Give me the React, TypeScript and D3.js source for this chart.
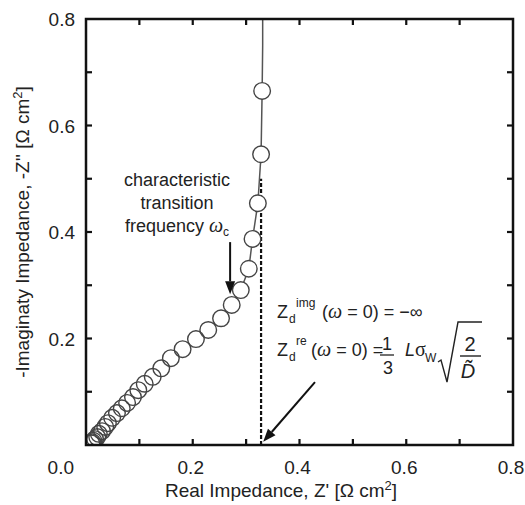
import React from "react";
import * as d3 from "d3";

// Impedance data: Z' (real) and -Z'' (imaginary), Ω cm²
const realZ = [0.010, 0.012, 0.014, 0.017, 0.021, 0.024, 0.030, 0.036, 0.041, 0.049, 0.058, 0.067, 0.077, 0.088, 0.098, 0.110, 0.125, 0.141, 0.159, 0.181, 0.206, 0.229, 0.253, 0.273, 0.290, 0.305, 0.312, 0.322, 0.328, 0.330];
const imagZ = [0.003, 0.005, 0.008, 0.011, 0.015, 0.021, 0.026, 0.034, 0.041, 0.051, 0.060, 0.069, 0.079, 0.090, 0.103, 0.115, 0.128, 0.144, 0.163, 0.180, 0.199, 0.216, 0.238, 0.263, 0.291, 0.331, 0.387, 0.454, 0.546, 0.665];
// continuation of the fitted line beyond the last point
const lineTailReal = [0.331, 0.331];
const lineTailImag = [0.75, 0.85];

const xTicks = [0.2, 0.4, 0.6, 0.8];
const yTicks = [0.2, 0.4, 0.6, 0.8];
const minorTicks = [0.1, 0.2, 0.3, 0.4, 0.5, 0.6, 0.7];

const dcLimitReal = 0.328; // Z_d^re(ω=0)
const dcLineTop = 0.5;

const annoArrow1 = { x1: 0.270, y1: 0.381, x2: 0.270, y2: 0.283 };
const annoArrow2 = { x1: 0.429, y1: 0.118, x2: 0.332, y2: 0.006 };

const W = 525, H = 505;
const L = 86, T = 19, R = 513, B = 445;
const FONT = "'Liberation Sans', Arial, Helvetica, sans-serif";
const SERIF = "'Liberation Serif', 'DejaVu Serif', serif";

export default function App() {
  const x = d3.scaleLinear().domain([0, 0.8]).range([L, R]);
  const y = d3.scaleLinear().domain([0, 0.8]).range([B, T]);

  const pts = realZ.map((v, i) => [v, imagZ[i]] as [number, number]);
  const linePts = pts.concat(lineTailReal.map((v, i) => [v, lineTailImag[i]] as [number, number]));
  const line = d3.line<[number, number]>().x(d => x(d[0])).y(d => y(d[1]));

  const tickLen = 6;
  const rad = 8.3;

  const arrow = (a: { x1: number; y1: number; x2: number; y2: number }, key: string) => {
    const X1 = x(a.x1), Y1 = y(a.y1), X2 = x(a.x2), Y2 = y(a.y2);
    const ang = Math.atan2(Y2 - Y1, X2 - X1);
    const hl = 13, hw = 5;
    const bx = X2 - hl * Math.cos(ang), by = Y2 - hl * Math.sin(ang);
    const px = -Math.sin(ang) * hw, py = Math.cos(ang) * hw;
    return (
      <g key={key}>
        <line x1={X1} y1={Y1} x2={bx} y2={by} stroke="#111" strokeWidth={2} />
        <path d={`M${X2},${Y2}L${bx + px},${by + py}L${bx - px},${by - py}Z`} fill="#111" />
      </g>
    );
  };

  return (
    <svg width={W} height={H} style={{ position: "absolute", left: 0, top: 0, background: "#fff" }} fontFamily={FONT}>
      <rect width={W} height={H} fill="#fff" />
      <defs>
        <clipPath id="plotclip">
          <rect x={L} y={T} width={R - L} height={B - T} />
        </clipPath>
      </defs>

      {/* dashed DC limit */}
      <line x1={x(dcLimitReal)} x2={x(dcLimitReal)} y1={y(0)} y2={y(dcLineTop)} stroke="#111" strokeWidth={2.2} strokeDasharray="4,2" />

      {/* data line */}
      <g clipPath="url(#plotclip)">
        <path d={line(linePts) || ""} fill="none" stroke="#555" strokeWidth={1.5} />
        {pts.map((p, i) => (
          <circle key={"f" + i} cx={x(p[0])} cy={y(p[1])} r={rad} fill="#fff" stroke="none" />
        ))}
        {pts.map((p, i) => (
          <circle key={"c" + i} cx={x(p[0])} cy={y(p[1])} r={rad} fill="none" stroke="#444" strokeWidth={1.4} />
        ))}
      </g>

      {/* frame */}
      <rect x={L} y={T} width={R - L} height={B - T} fill="none" stroke="#111" strokeWidth={2.5} />
      {minorTicks.map(t => (
        <g key={"t" + t} stroke="#111" strokeWidth={2.2}>
          <line x1={x(t)} x2={x(t)} y1={B} y2={B - tickLen} />
          <line x1={x(t)} x2={x(t)} y1={T} y2={T + tickLen} />
          <line x1={L} x2={L + tickLen} y1={y(t)} y2={y(t)} />
          <line x1={R} x2={R - tickLen} y1={y(t)} y2={y(t)} />
        </g>
      ))}

      {/* tick labels */}
      <g fontSize={19} fill="#222">
        <text x={74} y={474} textAnchor="end">0.0</text>
        {xTicks.map(t => (
          <text key={"xl" + t} x={x(t) - 2} y={474} textAnchor="middle">{t.toFixed(1)}</text>
        ))}
        {yTicks.map(t => (
          <text key={"yl" + t} x={75} y={y(t) + 7} textAnchor="end">{t.toFixed(1)}</text>
        ))}
      </g>

      {/* axis titles */}
      <text x={281} y={497} textAnchor="middle" fontSize={19} fill="#222">
        Real Impedance, Z' [Ω cm<tspan dy={-7} fontSize={13}>2</tspan><tspan dy={7}>]</tspan>
      </text>
      <text transform={`translate(29,${(T + B) / 2}) rotate(-90)`} textAnchor="middle" fontSize={19} fill="#222">
        -Imaginaty Impedance, -Z'' [Ω cm<tspan dy={-7} fontSize={13}>2</tspan><tspan dy={7}>]</tspan>
      </text>

      {/* annotation: characteristic frequency */}
      <g fontSize={18} fill="#222" textAnchor="middle">
        <text x={177} y={186}>characteristic</text>
        <text x={177} y={209}>transition</text>
        <text x={177} y={232}>frequency <tspan fontFamily={SERIF} fontStyle="italic" fontSize={20}>ω</tspan><tspan fontSize={12} dy={4}>c</tspan></text>
      </g>
      {arrow(annoArrow1, "a1")}
      {arrow(annoArrow2, "a2")}

      {/* formula */}
      <g fontSize={18} fill="#222">
        <text x={277} y={318}>Z</text>
        <text x={289} y={323} fontSize={12}>d</text>
        <text x={296} y={307} fontSize={12}>img</text>
        <text x={322} y={318}>(<tspan fontFamily={SERIF} fontStyle="italic" fontSize={20}>ω</tspan> = 0) = −∞</text>

        <text x={277} y={356}>Z</text>
        <text x={289} y={361} fontSize={12}>d</text>
        <text x={296} y={345} fontSize={12}>re</text>
        <text x={311} y={356}>(<tspan fontFamily={SERIF} fontStyle="italic" fontSize={20}>ω</tspan> = 0) =</text>
        <text x={387} y={350} textAnchor="middle">1</text>
        <line x1={380} x2={394} y1={355} y2={355} stroke="#222" strokeWidth={1.3} />
        <text x={388} y={374} textAnchor="middle">3</text>
        <text x={405} y={356} fontStyle="italic">L</text>
        <text x={415} y={356} fontFamily={SERIF} fontSize={20}>σ</text>
        <text x={425} y={362} fontSize={12}>W</text>
        <path d="M438,362 L441,360 L447,382 L458,322 L482,322" fill="none" stroke="#222" strokeWidth={1.4} />
        <text x={470} y={351} textAnchor="middle" fontSize={20}>2</text>
        <line x1={460} x2={481} y1={356} y2={356} stroke="#222" strokeWidth={1.4} />
        <text x={468} y={378} textAnchor="middle" fontStyle="italic" fontSize={20}>{"D\u0303"}</text>
      </g>
    </svg>
  );
}
